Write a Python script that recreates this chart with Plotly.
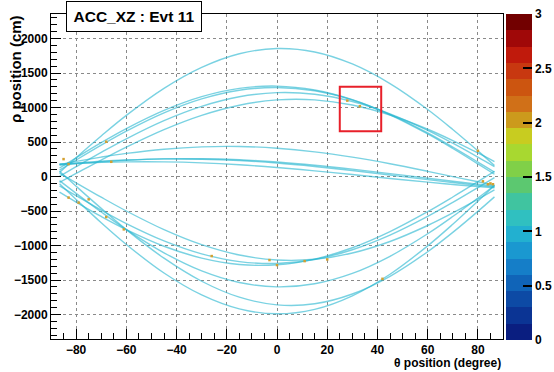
import plotly.graph_objects as go

# ---------------- data ----------------
theta = [-86.6, -80, -70, -60, -45, -30, -15, 0, 15, 30, 45, 60, 70, 80, 86.6]

curves = {
    "A":  [60, 273, 587, 885, 1277, 1581, 1779, 1855, 1805, 1631, 1347, 971, 681, 371, 160],
    "B1": [123, 271, 490, 694, 958, 1157, 1277, 1310, 1253, 1112, 894, 616, 406, 183, 33],
    "B2": [92, 239, 455, 658, 923, 1125, 1250, 1290, 1242, 1110, 901, 632, 427, 209, 62],
    "C":  [2, 142, 350, 547, 810, 1017, 1156, 1215, 1192, 1087, 909, 669, 482, 280, 142],
    "D":  [-84, 45, 239, 425, 679, 886, 1033, 1110, 1111, 1036, 891, 685, 521, 341, 216],
    "E":  [174, 219, 281, 335, 396, 430, 435, 410, 357, 280, 184, 75, -1, -77, -126],
    "F1": [162, 184, 213, 235, 255, 257, 242, 210, 164, 107, 42, -25, -69, -112, -138],
    "F2": [177, 196, 222, 240, 255, 251, 231, 195, 145, 86, 21, -45, -88, -128, -153],
    "G":  [178, 190, 204, 212, 212, 198, 170, 130, 82, 28, -28, -82, -116, -145, -162],
    "H":  [49, -91, -300, -500, -770, -988, -1138, -1210, -1200, -1109, -942, -710, -528, -329, -193],
    "I1": [-226, -370, -579, -770, -1011, -1183, -1275, -1280, -1197, -1033, -799, -510, -297, -74, 74],
    "I2": [-135, -278, -487, -682, -933, -1121, -1233, -1260, -1202, -1061, -849, -578, -375, -160, -15],
    "J":  [-60, -244, -514, -770, -1106, -1368, -1536, -1600, -1554, -1404, -1156, -830, -580, -312, -130],
    "K":  [75, -141, -462, -770, -1184, -1518, -1749, -1860, -1845, -1703, -1446, -1090, -810, -505, -295],
    "L":  [-106, -333, -670, -985, -1399, -1717, -1919, -1990, -1925, -1729, -1416, -1005, -692, -357, -130],
}

# bins where two curves overlap (content 2)
dots_theta = [-85, -83, -68, -66, 28, 33, 80, 84, 86, -83, -79, -75, -68, -61, -26, -3, 0, 11, 20, 42, 82, 85]
dots_rho = [252, 180, 504, 213, 1100, 1018, 373, -112, -112, -306, -379, -331, -587, -766, -1153, -1211, -1284, -1226, -1202, -1483, -70, -100]

# found-track box
box_theta = [25, 41.5]
box_rho = [655, 1300]

z_ticks = [0, 0.5, 1, 1.5, 2, 2.5, 3]
palette = ["#0a1e80", "#0b3494", "#0d4aa5", "#1064b8", "#157ec8", "#1a98d0", "#22b0d0",
           "#30c0c0", "#40c4a0", "#5cc870", "#80d048", "#a8d830", "#c8cc20", "#cc9a1c",
           "#d07018", "#cc5510", "#c83810", "#c01a0c", "#a00808", "#720000"]

# ---------------- figure ----------------
FONT = "Liberation Sans, Arial, sans-serif"
line_color = "rgba(40,182,208,0.62)"

fig = go.Figure()
for name, rho in curves.items():
    fig.add_trace(go.Scatter(x=theta, y=rho, mode="lines",
                             line=dict(color=line_color, width=1.4, shape="spline", smoothing=1.0),
                             showlegend=False, hoverinfo="skip"))

fig.add_trace(go.Scatter(x=dots_theta, y=dots_rho, mode="markers",
                         marker=dict(color="#d4a030", size=2.5, symbol="square"),
                         showlegend=False, hoverinfo="skip"))

n = len(palette)
cscale = []
for i, c in enumerate(palette):
    cscale.append([i / n, c])
    cscale.append([(i + 1) / n, c])

fig.add_trace(go.Scatter(x=[None], y=[None], mode="markers",
                         marker=dict(color=[0], cmin=0, cmax=3, colorscale=cscale, showscale=True,
                                     colorbar=dict(x=1.0066, xanchor="left", xpad=0,
                                                   y=0.4985, yanchor="middle", ypad=0,
                                                   len=1.003, lenmode="fraction",
                                                   thickness=26, thicknessmode="pixels",
                                                   outlinewidth=0,
                                                   tickvals=z_ticks, ticks="inside", ticklen=9,
                                                   tickwidth=1.5, tickcolor="black",
                                                   tickfont=dict(family=FONT, size=12, color="black", weight="bold"))),
                         showlegend=False, hoverinfo="skip"))

fig.add_shape(type="rect", xref="x", yref="y",
              x0=box_theta[0], x1=box_theta[1], y0=box_rho[0], y1=box_rho[1],
              line=dict(color="#e8202a", width=2))

axis_common = dict(showline=True, linecolor="black", linewidth=1, mirror=True,
                   ticks="inside", ticklen=10, tickwidth=1, tickcolor="black",
                   showgrid=True, gridcolor="#8a8a8a", griddash="dot", gridwidth=1,
                   zeroline=False, automargin=False,
                   tickfont=dict(family=FONT, size=12, color="black", weight="bold"))

fig.update_xaxes(range=[-90, 90], tick0=0, dtick=20,
                 minor=dict(dtick=5, ticks="inside", ticklen=6, tickcolor="black", showgrid=False),
                 **axis_common)
fig.update_yaxes(range=[-2355, 2355], tick0=0, dtick=500,
                 minor=dict(dtick=100, ticks="inside", ticklen=6, tickcolor="black", showgrid=False),
                 **axis_common)

fig.add_annotation(xref="paper", yref="paper", x=-0.0796, y=1.003, xanchor="center", yanchor="top",
                   text="ρ position (cm)", textangle=-90, showarrow=False,
                   font=dict(family=FONT, size=15, color="black", weight="bold"))
fig.add_annotation(xref="paper", yref="paper", x=1.0, y=-0.0738, xanchor="right", yanchor="middle",
                   text="θ position (degree)", showarrow=False,
                   font=dict(family=FONT, size=12, color="black", weight="bold"))
fig.add_annotation(xref="paper", yref="paper", x=0.1836, y=0.992, xanchor="center", yanchor="middle",
                   text="ACC_XZ : Evt 11", showarrow=False, width=132, height=27,
                   bgcolor="white", bordercolor="black", borderwidth=1, borderpad=1,
                   font=dict(family=FONT, size=15.5, color="black", weight="bold"))

fig.update_layout(width=554, height=372,
                  margin=dict(l=51, r=51, t=14, b=33, autoexpand=False),
                  paper_bgcolor="white", plot_bgcolor="white")

fig.write_html("out.html", config={"displayModeBar": False},
               post_script="document.body.style.margin='0px';document.body.style.overflow='hidden';")
